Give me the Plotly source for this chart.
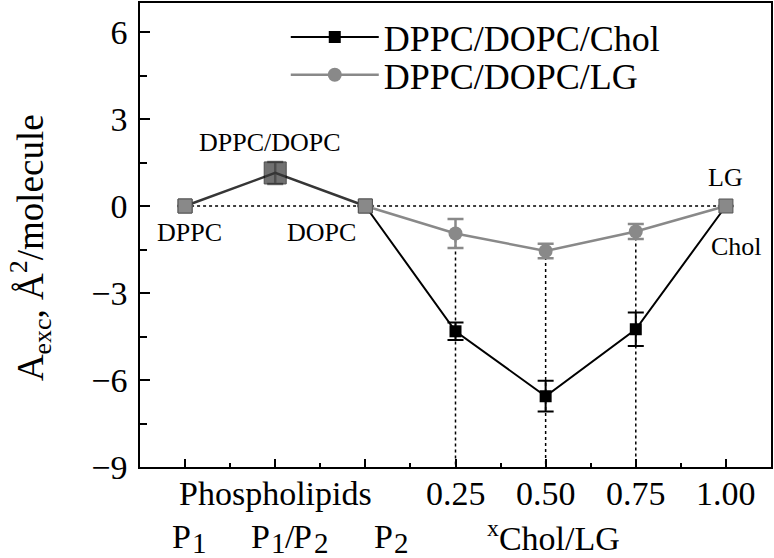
import plotly.graph_objects as go

FONT = "Liberation Serif, Times New Roman, serif"

# ---------------- data ----------------
phos_x = [0, 1, 2]                 # P1, P1/P2, P2
phos_y = [0.0, 1.14, 0.0]
phos_err = [0.0, 0.38, 0.0]

frac_x = [2, 3, 4, 5, 6]           # P2, 0.25, 0.50, 0.75, 1.00
chol_y = [0.0, -4.32, -6.56, -4.25, 0.0]
chol_err = [0.0, 0.30, 0.53, 0.58, 0.0]
lg_y = [0.0, -0.95, -1.55, -0.88, 0.0]
lg_err = [0.0, 0.50, 0.25, 0.26, 0.0]

row1_labels = ["Phospholipids", "0.25", "0.50", "0.75", "1.00"]
row1_x = [1, 3, 4, 5, 6]
row2_pieces = ["P", "1", "P", "1", "/", "P", "2", "P", "2"]
frac_label = "<sup>x</sup>Chol/LG"

point_labels = ["DPPC/DOPC", "DPPC", "DOPC", "LG", "Chol"]

# ---------------- layout constants ----------------
y_range = [-9, 7]
x_range = [-0.5, 6.5]
L, R, T, B = 140, 2, 1, 91
W, H = 774, 558
PW, PH = W - L - R, H - T - B

GRAY = "#898989"
DARK = "#363636"


def px2paper_x(px):
    return (px - L) / PW


def px2paper_y(py):
    return (H - B - py) / PH


fig = go.Figure()

# dotted zero line
fig.add_trace(go.Scatter(x=[phos_x[0], frac_x[-1]], y=[0, 0], mode="lines",
                         line=dict(color="black", width=1.5, dash="dot"),
                         showlegend=False, hoverinfo="skip"))
# vertical dotted drop lines
vx, vy = [], []
for xv, yv in zip(frac_x[1:4], lg_y[1:4]):
    vx += [xv, xv, None]
    vy += [yv, y_range[0], None]
fig.add_trace(go.Scatter(x=vx, y=vy, mode="lines",
                         line=dict(color="black", width=1.5, dash="dot"),
                         showlegend=False, hoverinfo="skip"))

# phospholipid part: error bars first (behind), then line + markers
fig.add_trace(go.Scatter(x=phos_x, y=phos_y, mode="markers",
                         marker=dict(size=1, opacity=0),
                         error_y=dict(type="data", array=phos_err, color=GRAY,
                                      thickness=2.5, width=8),
                         showlegend=False, hoverinfo="skip"))
fig.add_trace(go.Scatter(x=phos_x, y=phos_y, mode="lines+markers",
                         line=dict(color=DARK, width=2.5),
                         marker=dict(symbol="square", size=[14, 22, 14],
                                     color=[GRAY, DARK, GRAY],
                                     line=dict(color="black", width=1)),
                         showlegend=False))

# Chol series
fig.add_trace(go.Scatter(x=frac_x, y=chol_y, mode="lines+markers",
                         name="DPPC/DOPC/Chol", legend="legend",
                         line=dict(color="black", width=2),
                         marker=dict(symbol="square", size=12, color="black"),
                         error_y=dict(type="data", array=chol_err, color="black",
                                      thickness=2, width=8)))
# LG series
fig.add_trace(go.Scatter(x=frac_x, y=lg_y, mode="lines+markers",
                         name="DPPC/DOPC/LG", legend="legend2",
                         line=dict(color=GRAY, width=2.5),
                         marker=dict(symbol="circle", size=14, color=GRAY),
                         error_y=dict(type="data", array=lg_err, color=GRAY,
                                      thickness=2.5, width=8)))
# pure-component end points
fig.add_trace(go.Scatter(x=[phos_x[0], frac_x[0], frac_x[-1]],
                         y=[phos_y[0], chol_y[0], chol_y[-1]],
                         mode="markers",
                         marker=dict(symbol="square", size=14, color=GRAY,
                                     line=dict(color="#555555", width=1)),
                         showlegend=False, hoverinfo="skip"))

annotations = []


def add_text(text, size, left_px, baseline_px):
    annotations.append(dict(x=px2paper_x(left_px), xref="paper",
                            y=px2paper_y(baseline_px - 0.32 * size), yref="paper",
                            text=text, showarrow=False, xanchor="left", yanchor="middle",
                            borderpad=0,
                            font=dict(family=FONT, size=size, color="black")))


# first row of x labels
for t, x in zip(row1_labels, row1_x):
    annotations.append(dict(x=x, xref="x", y=px2paper_y(494), yref="paper",
                            text=t, showarrow=False, xanchor="center", yanchor="middle",
                            font=dict(family=FONT, size=34, color="black")))
# second row: P1, P1/P2, P2 with full-size lowered indices
piece_left = [171, 191, 250, 270, 284, 292, 313, 373, 393]
piece_size = [34, 29, 34, 29, 34, 34, 29, 34, 29]
piece_base = [548, 553, 548, 553, 548, 548, 553, 548, 553]
for t, lx, s, b in zip(row2_pieces, piece_left, piece_size, piece_base):
    add_text(t, s, lx, b)
annotations.append(dict(x=4.09, xref="x", y=px2paper_y(536), yref="paper",
                        text=frac_label, showarrow=False, xanchor="center",
                        yanchor="middle", borderpad=0,
                        font=dict(family=FONT, size=34, color="black")))

# point labels
point_lx = [0.94, 0.05, 1.51, 5.99, 6.12]
point_ly = [2.2, -0.9, -0.9, 1.0, -1.4]
for t, x, y in zip(point_labels, point_lx, point_ly):
    annotations.append(dict(x=x, xref="x", y=y, yref="y", text=t, showarrow=False,
                            xanchor="center", yanchor="middle",
                            font=dict(family=FONT, size=26, color="black")))
# y axis title
annotations.append(dict(x=px2paper_x(30), xref="paper", y=px2paper_y(247), yref="paper",
                        text="A<sub>exc</sub>, Å<sup>2</sup>/molecule", textangle=-90,
                        showarrow=False, xanchor="center", yanchor="middle", borderpad=0,
                        font=dict(family=FONT, size=37, color="black")))

legend_common = dict(xanchor="left", yanchor="top",
                     font=dict(family=FONT, size=36, color="black"),
                     bgcolor="rgba(0,0,0,0)", itemwidth=88)

fig.update_layout(
    width=W, height=H,
    margin=dict(l=L, r=R, t=T, b=B),
    paper_bgcolor="white", plot_bgcolor="white",
    font=dict(family=FONT, color="black"),
    showlegend=True,
    legend=dict(x=px2paper_x(286), y=1 - 4 / PH, **legend_common),
    legend2=dict(x=px2paper_x(286), y=1 - 42 / PH, **legend_common),
    annotations=annotations,
    xaxis=dict(range=x_range, showgrid=False, zeroline=False, showline=True,
               linecolor="black", linewidth=1.5, mirror=True,
               tickmode="array", tickvals=list(range(7)), ticks="inside",
               ticklen=8, tickwidth=1.5, tickcolor="black", showticklabels=False,
               minor=dict(tickvals=[i + 0.5 for i in range(6)], ticks="inside",
                          ticklen=4, tickwidth=1.5, tickcolor="black")),
    yaxis=dict(range=y_range, showgrid=False, zeroline=False, showline=True,
               linecolor="black", linewidth=1.5, mirror=True,
               tickmode="linear", tick0=0, dtick=3, ticks="inside",
               ticklen=10, tickwidth=1.5, tickcolor="black",
               tickfont=dict(family=FONT, size=34, color="black"),
               ticklabelstandoff=4,
               minor=dict(dtick=1.5, ticks="inside", ticklen=7, tickwidth=1.5,
                          tickcolor="black")),
)

fig.write_html("out.html", config={"displayModeBar": False},
               post_script="document.body.style.margin='0';document.body.style.padding='0';")
